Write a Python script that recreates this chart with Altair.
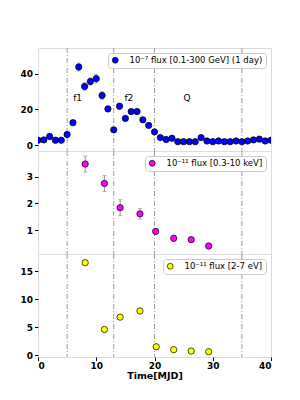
import altair as alt
import pandas as pd

# ---- data ----
gam_t = list(range(0, 41))
gam_v = [2.8, 3.0, 4.9, 2.8, 2.8, 6.0, 12.6, 43.7, 32.8, 35.6, 37.2, 27.8, 20.3, 8.6,
         21.8, 15.0, 18.8, 18.8, 14.2, 11.1, 7.5, 4.3, 3.2, 3.9, 2.0, 2.0, 2.0, 2.0,
         4.3, 2.4, 2.0, 2.4, 2.0, 2.0, 2.4, 2.0, 2.4, 3.0, 3.4, 2.4, 2.8]
gam_e = [0.8, 0.8, 1.0, 0.8, 0.8, 1.0, 1.2, 2.2, 2.0, 2.0, 2.4, 2.0, 1.6, 1.0,
         1.4, 1.2, 1.4, 1.4, 1.2, 1.0, 1.0, 0.8, 0.7, 0.7, 0.6, 0.6, 0.6, 0.6,
         0.7, 0.6, 0.6, 0.6, 0.6, 0.6, 0.6, 0.6, 0.6, 0.7, 0.7, 0.6, 0.6]

xr_t = [8.1, 11.4, 14.1, 17.5, 20.2, 23.3, 26.3, 29.3]
xr_v = [3.48, 2.75, 1.84, 1.61, 0.95, 0.69, 0.64, 0.40]
xr_e = [0.30, 0.30, 0.30, 0.20, 0.10, 0.10, 0.08, 0.05]

uv_t = [8.1, 11.4, 14.1, 17.5, 20.3, 23.3, 26.3, 29.3]
uv_v = [16.5, 4.6, 6.8, 7.9, 1.52, 1.0, 0.76, 0.64]
uv_e = [0.3, 0.2, 0.2, 0.2, 0.1, 0.1, 0.1, 0.1]

vlines = [5, 13, 20, 35]
lab_t = [6.8, 15.6, 25.6]
lab_v = [26.5, 26.5, 26.5]
lab_s = ["f1", "f2", "Q"]

series = ["10⁻⁷ flux [0.1-300 GeV] (1 day)", "10⁻¹¹ flux [0.3-10 keV]", "10⁻¹¹ flux [2-7 eV]"]
colors = ["#0000ff", "#ff00ff", "#ffff00"]
ydomains = [[-3.2, 54.3], [0.1, 3.97], [-0.3, 18.05]]
yticks = [[0, 20, 40], [1, 2, 3], [0, 5, 10, 15]]

FONT = "DejaVu Sans"
W, H = 233, 103


def make_df(t, v, e, s, k):
    return pd.DataFrame({"t": t, "v": v, "lo": [a - b for a, b in zip(v, e)],
                         "hi": [a + b for a, b in zip(v, e)], "s%d" % k: s})


dfs = [make_df(gam_t, gam_v, gam_e, series[0], 0),
       make_df(xr_t, xr_v, xr_e, series[1], 1),
       make_df(uv_t, uv_v, uv_e, series[2], 2)]
vdf = pd.DataFrame({"x": vlines})
ldf = pd.DataFrame({"t": lab_t, "v": lab_v, "s": lab_s})


def panel(i):
    df = dfs[i]
    bottom = i == 2
    if bottom:
        xaxis = alt.Axis(values=[0, 10, 20, 30, 40], labelFontWeight="bold", labelFontSize=9,
                         labelFont=FONT, titleFont=FONT, titleFontWeight="bold", titleFontSize=9.5,
                         title="Time[MJD]", grid=False, tickSize=3.5, tickColor="black",
                         domain=False, labelColor="black", titleColor="black", titlePadding=0,
                         labelPadding=0.5, format="d", labelOverlap=False)
    else:
        xaxis = None
    xs = alt.Scale(domain=[0, 40], nice=False)
    ys = alt.Scale(domain=ydomains[i], nice=False, zero=False)
    yaxis = alt.Axis(values=yticks[i], labelFontWeight="bold", labelFontSize=9, labelFont=FONT,
                     grid=False, tickSize=3.5, tickColor="black", domain=False, title=None,
                     labelColor="black", minExtent=24, maxExtent=24, labelPadding=2,
                     labelOverlap=False, labelBound=False, labelFlush=False, format="d")

    def X(f):
        return alt.X(f, scale=xs, axis=xaxis)

    def Y(f):
        return alt.Y(f, scale=ys, axis=yaxis)

    base = alt.Chart(df)
    err = base.mark_rule(color="#8c8c8c", strokeWidth=0.9, clip=True).encode(
        x=X("t:Q"), y=Y("lo:Q"), y2="hi:Q")
    cap1 = base.mark_tick(color="#8c8c8c", thickness=0.9, size=4, orient="horizontal", clip=True).encode(
        x=X("t:Q"), y=Y("lo:Q"))
    cap2 = base.mark_tick(color="#8c8c8c", thickness=0.9, size=4, orient="horizontal", clip=True).encode(
        x=X("t:Q"), y=Y("hi:Q"))
    vl = alt.Chart(vdf).mark_rule(color="#909090", strokeWidth=0.9, strokeDash=[5, 2, 1, 2]).encode(
        x=X("x:Q"))
    fld = "s%d:N" % i
    pts = base.mark_point(filled=True, size=40, opacity=1, clip=True).encode(
        x=X("t:Q"), y=Y("v:Q"),
        stroke=alt.value("black"), strokeWidth=alt.value(0.7),
        fill=alt.Fill(fld, scale=alt.Scale(domain=[series[i]], range=[colors[i]]),
                      legend=alt.Legend(title=None, orient="top-right", offset=5, fillColor="white",
                                        strokeColor="#cccccc", cornerRadius=3, padding=3,
                                        labelFont=FONT, labelFontSize=8.5, labelColor="black",
                                        labelOffset=10,
                                        symbolType="circle", symbolSize=34, symbolStrokeColor="black",
                                        symbolStrokeWidth=0.7, symbolOpacity=1, labelLimit=300)))
    layers = [err, vl, cap1, cap2, pts]
    if i == 0:
        txt = alt.Chart(ldf).mark_text(font=FONT, fontSize=9, color="black").encode(
            x=X("t:Q"), y=Y("v:Q"), text="s:N")
        layers.append(txt)
    return alt.layer(*layers).properties(width=W, height=H)


chart = alt.vconcat(panel(0), panel(1), panel(2), spacing=0, bounds="flush").resolve_scale(
    fill="independent").properties(
    padding={"left": 5, "top": 39, "right": 5, "bottom": 5}
).configure_view(stroke="#222222", strokeWidth=1).configure(background="white")

chart.save("out.html", embed_options={"renderer": "svg", "actions": False})
